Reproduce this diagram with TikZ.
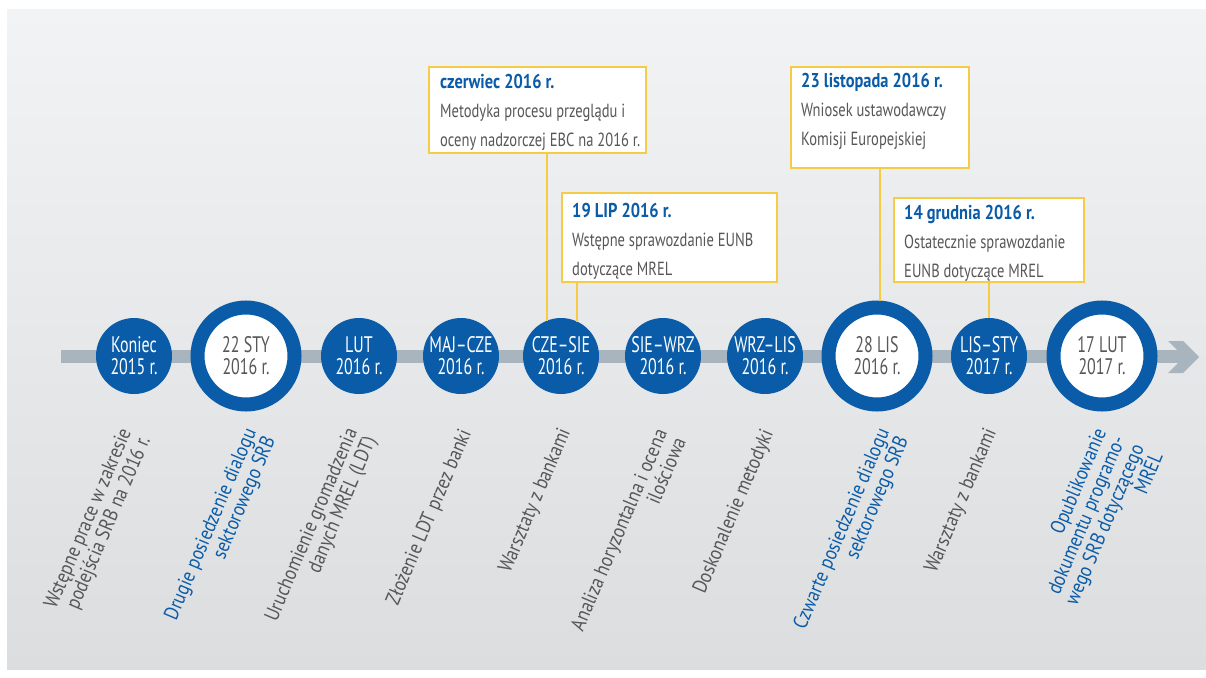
\documentclass[tikz,border=0pt]{standalone}
\usepackage{fontspec}
\setmainfont{PT Sans}
\newfontfamily\boxfont{PT Sans}[FakeStretch=0.765]
\newfontfamily\titlefont{PT Sans}[FakeStretch=0.82]
\newfontfamily\circfont{PT Sans}[FakeStretch=0.71]
\newfontfamily\rotfont{PT Sans}[FakeStretch=0.86]
\definecolor{mblue}{HTML}{0A5CA8}
\definecolor{mgrey}{HTML}{575757}
\definecolor{barc}{HTML}{A9B5BE}
\definecolor{byel}{HTML}{F6CB45}
\definecolor{bgtop}{HTML}{F2F3F4}
\definecolor{bgbot}{HTML}{DCDDDF}
\newcommand\boxtitle[1]{{\titlefont\bfseries\color{mblue}\fontsize{20}{29}\selectfont #1}}
\tikzset{
  dot/.style={circle, fill=mblue, minimum size=76pt, inner sep=0pt, outer sep=0pt,
    text=white, align=center, font=\circfont\fontsize{22.5}{22}\selectfont},
  ring/.style={circle, draw=mblue, line width=14pt, fill=white, minimum size=97pt,
    inner sep=0pt, outer sep=7pt, text=mgrey, align=center,
    font=\circfont\fontsize{22.5}{22}\selectfont},
  boxframe/.style={draw=byel, line width=2pt, fill=white, inner sep=0pt,
    outer sep=0pt, anchor=north west},
  boxtext/.style={anchor=north west, inner sep=0pt, align=left, text=mgrey,
    font=\boxfont\fontsize{19}{29}\selectfont},
  rot/.style={rotate=67, anchor=north east, inner sep=0pt, align=right,
    font=\rotfont\fontsize{20.5}{20.5}\selectfont, text=mgrey},
  conn/.style={draw=byel, line width=2pt},
}
\begin{document}
\begin{tikzpicture}[x=1pt,y=-1pt]
\useasboundingbox (0,0) rectangle (1206,677);
\fill[white] (0,0) rectangle (1206,677);
\shade[top color=bgtop, bottom color=bgbot] (7,10) rectangle (1206,669);
% timeline bar with chevron head
\fill[barc] (61,350) rectangle (1186,363);
\fill[barc] (1168,341) -- (1183,341) -- (1199,357) -- (1183,373) -- (1168,373) -- (1184,357) -- cycle;
% boxes
\node[boxframe, minimum width=217pt, minimum height=86pt] (b1) at (429,67) {};
\node[boxtext] (t1) at (440,74) {\boxtitle{czerwiec 2016 r.}\\Metodyka procesu przeglądu i\\oceny nadzorczej EBC na 2016 r.};
\node[boxframe, minimum width=215pt, minimum height=89pt] (b2) at (562,193) {};
\node[boxtext] (t2) at (572,203) {\boxtitle{19 LIP 2016 r.}\\Wstępne sprawozdanie EUNB\\dotyczące MREL};
\node[boxframe, minimum width=178pt, minimum height=101pt] (b3) at (791,67) {};
\node[boxtext] (t3) at (801,73) {\boxtitle{23 listopada 2016 r.}\\Wniosek ustawodawczy\\Komisji Europejskiej};
\node[boxframe, minimum width=190pt, minimum height=84pt] (b4) at (894,198) {};
\node[boxtext] (t4) at (904,205) {\boxtitle{14 grudnia 2016 r.}\\Ostatecznie sprawozdanie\\EUNB dotyczące MREL};
% circles
\node[dot]  (c1)  at (134,356)    {Koniec\\2015 r.};
\node[ring] (c2)  at (246,356)    {22 STY\\2016 r.};
\node[dot]  (c3)  at (359,356)    {LUT\\2016 r.};
\node[dot]  (c4)  at (461,356)    {MAJ–CZE\\2016 r.};
\node[dot]  (c5)  at (561,356)    {CZE–SIE\\2016 r.};
\node[dot]  (c6)  at (663,356)    {SIE–WRZ\\2016 r.};
\node[dot]  (c7)  at (765,356)    {WRZ–LIS\\2016 r.};
\node[ring] (c8)  at (877,356)    {28 LIS\\2016 r.};
\node[dot]  (c9)  at (989,356)    {LIS–STY\\2017 r.};
\node[ring] (c10) at (1102,356)   {17 LUT\\2017 r.};
% connectors
\draw[conn] (c5.111.6 |- b1.south) -- (c5.111.6);
\draw[conn] (c5.65.6 |- b2.south) -- (c5.65.6);
\draw[conn] (c8.87 |- b3.south) -- (c8.87);
\draw[conn] (c9.north |- b4.south) -- (c9.north);
% rotated labels
\node[rot] (l1) at (118,426) {Wstępne prace w zakresie\\podejścia SRB na 2016 r.};
\node[rot, text=mblue] (l2) at (243,426) {Drugie posiedzenie dialogu\\sektorowego SRB};
\node[rot] (l3) at (344,426) {Uruchomienie gromadzenia\\danych MREL (LDT)};
\node[rot] (l4) at (458,427) {Złożenie LDT przez banki};
\node[rot] (l5) at (557,426) {Warsztaty z bankami};
\node[rot] (l6) at (654,427) {Analiza horyzontalna i ocena\\ilościowa};
\node[rot] (l7) at (760,427) {Doskonalenie metodyki};
\node[rot, text=mblue] (l8) at (876,426) {Czwarte posiedzenie dialogu\\sektorowego SRB};
\node[rot] (l9) at (983,426) {Warsztaty z bankami};
\node[rot, text=mblue] (l10) at (1093,426) {Opublikowanie\\dokumentu programo-\\wego SRB dotyczącego\\MREL};
\end{tikzpicture}
\end{document}
